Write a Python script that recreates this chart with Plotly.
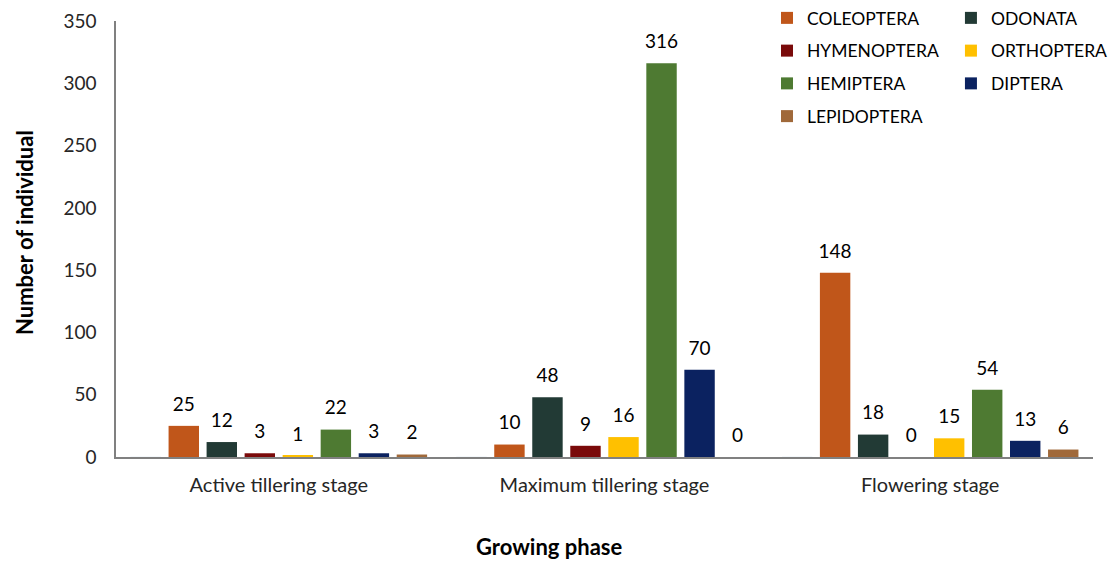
import plotly.graph_objects as go

stages = ["Active tillering stage", "Maximum tillering stage", "Flowering stage"]
orders = ["COLEOPTERA", "ODONATA", "HYMENOPTERA", "ORTHOPTERA", "HEMIPTERA", "DIPTERA", "LEPIDOPTERA"]
coleoptera = [25, 10, 148]
odonata = [12, 48, 18]
hymenoptera = [3, 9, 0]
orthoptera = [1, 16, 15]
hemiptera = [22, 316, 54]
diptera = [3, 70, 13]
lepidoptera = [2, 0, 6]
empty_slot = [0, 0, 0]  # blank series occupying the first slot of each group (as in the source chart)
series = [coleoptera, odonata, hymenoptera, orthoptera, hemiptera, diptera, lepidoptera]
colors = ["#C0561A", "#223A35", "#7A0A0A", "#FFC000", "#4E7A32", "#0B2260", "#A0693A"]
legend_ids = ["legend", "legend2", "legend", "legend2", "legend", "legend2", "legend"]

FONT = "Lato, Calibri, Carlito, sans-serif"
GAP = 0.066

fig = go.Figure()
# blank leading series
fig.add_trace(go.Bar(name="", x=stages, y=empty_slot, marker_color="rgba(0,0,0,0)",
                     showlegend=False, hoverinfo="skip", offsetgroup="g0"))
for k, (name, vals, col, lg) in enumerate(zip(orders, series, colors, legend_ids), start=1):
    fig.add_trace(go.Bar(
        name=name, x=stages, y=vals, marker_color=col, marker_line_width=0,
        legend=lg, legendgroup=name, offsetgroup=f"g{k}",
    ))

# data labels: text-only scatter traces grouped like the bars
fig.add_trace(go.Scatter(x=stages, y=empty_slot, mode="markers", showlegend=False,
                         marker=dict(size=1, color="rgba(0,0,0,0)"), hoverinfo="skip",
                         offsetgroup="g0", cliponaxis=False))
for k, (name, vals) in enumerate(zip(orders, series), start=1):
    fig.add_trace(go.Scatter(
        x=stages, y=vals, mode="markers+text", text=[str(v) for v in vals],
        textposition="top center", textfont=dict(size=19, color="#000000", family=FONT),
        marker=dict(size=15, color="rgba(0,0,0,0)", opacity=0),
        showlegend=False, hoverinfo="skip", offsetgroup=f"g{k}", cliponaxis=False,
    ))

leg_common = dict(orientation="v", yanchor="top", xanchor="left", yref="container",
                  font=dict(size=17.5, color="#000000", family=FONT),
                  tracegroupgap=7, bgcolor="rgba(0,0,0,0)", itemclick=False,
                  itemdoubleclick=False)

fig.update_layout(
    width=1113, height=561,
    margin=dict(l=116, r=20, t=21, b=104, autoexpand=False),
    plot_bgcolor="white", paper_bgcolor="white",
    barmode="group", bargap=GAP, bargroupgap=0.2,
    scattermode="group", scattergap=GAP,
    font=dict(family=FONT, size=19, color="#404040"),
    legend=dict(x=0.6663, y=1.0, **leg_common),
    legend2=dict(x=0.8546, y=1.0, **leg_common),
    xaxis=dict(showline=True, linecolor="#808080", linewidth=1.5,
               ticks="", showgrid=False, ticklabelstandoff=9,
               tickfont=dict(size=20, color="#262626")),
    yaxis=dict(range=[0, 350], dtick=50, showline=True, linecolor="#808080",
               linewidth=1.5, ticks="", showgrid=False, zeroline=False,
               ticklabelstandoff=14, tickfont=dict(size=19, color="#262626")),
    annotations=[
        dict(text="<b>Number of individual</b>", x=(24 - 116) / 977, xref="paper",
             y=(457 - 233) / 436, yref="paper",
             showarrow=False, textangle=-90, font=dict(size=22, color="#000000"),
             xanchor="center", yanchor="middle"),
        dict(text="<b>Growing phase</b>", x=(549 - 116) / 977, xref="paper",
             y=(457 - 546) / 436, yref="paper",
             showarrow=False, font=dict(size=22, color="#000000"),
             xanchor="center", yanchor="middle"),
    ],
)

fig.write_html("out.html")
